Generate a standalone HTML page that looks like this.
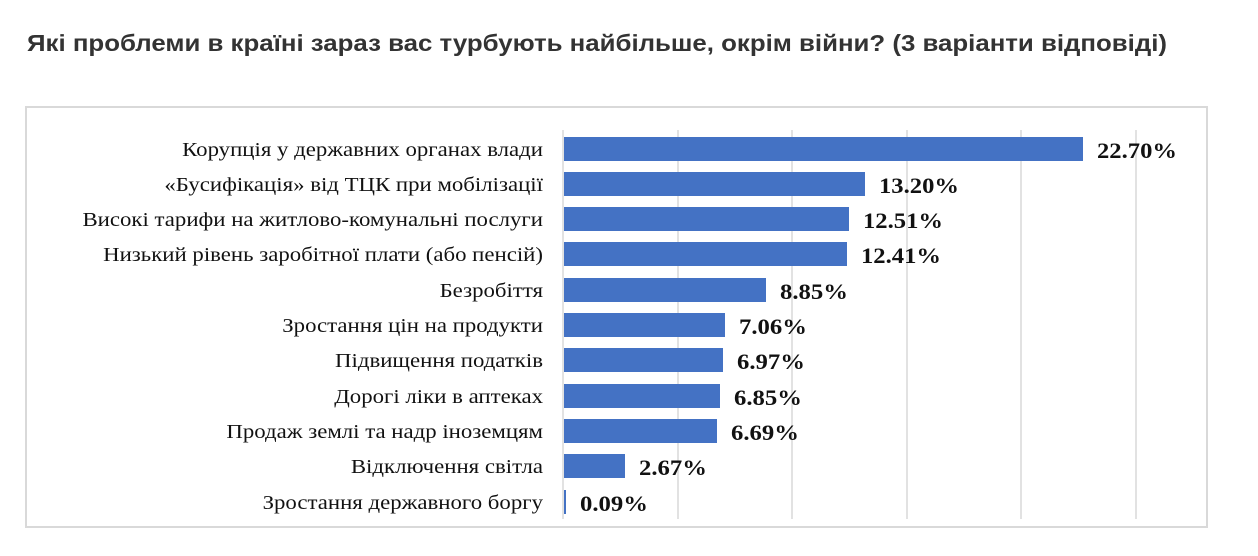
<!DOCTYPE html>
<html><head><meta charset="utf-8"><style>
body{margin:0;background:#fff;width:1258px;height:556px;overflow:hidden}
svg{display:block}
</style></head><body>
<svg width="1258" height="556" xmlns="http://www.w3.org/2000/svg">
<text x="27" y="51" font-family="Liberation Sans, sans-serif" font-weight="bold" font-size="23" fill="#333" textLength="1140" lengthAdjust="spacingAndGlyphs">Які проблеми в країні зараз вас турбують найбільше, окрім війни? (3 варіанти відповіді)</text>
<rect x="26" y="107" width="1181" height="420" fill="#fff" stroke="#d9d9d9" stroke-width="2"/>
<g stroke="#d9d9d9" stroke-width="1.5">
<line x1="678" y1="130" x2="678" y2="519"/>
<line x1="792" y1="130" x2="792" y2="519"/>
<line x1="907" y1="130" x2="907" y2="519"/>
<line x1="1021" y1="130" x2="1021" y2="519"/>
<line x1="1136" y1="130" x2="1136" y2="519"/>
<line x1="563" y1="130" x2="563" y2="519"/>
</g>
<g transform="translate(543,0) scale(1.17,1) translate(-543,0)" font-family="Liberation Serif, serif" font-size="19.5" fill="#111" text-anchor="end">
<text x="543" y="156">Корупція у державних органах влади</text>
<text x="543" y="191">«Бусифікація» від ТЦК при мобілізації</text>
<text x="543" y="226">Високі тарифи на житлово-комунальні послуги</text>
<text x="543" y="261">Низький рівень заробітної плати  (або пенсій)</text>
<text x="543" y="297">Безробіття</text>
<text x="543" y="332">Зростання цін на продукти</text>
<text x="543" y="367">Підвищення податків</text>
<text x="543" y="403">Дорогі ліки в аптеках</text>
<text x="543" y="438">Продаж землі та надр іноземцям</text>
<text x="543" y="473">Відключення світла</text>
<text x="543" y="509">Зростання державного боргу</text>
</g>
<g fill="#4472c4">
<rect x="564" y="137" width="519" height="24"/>
<rect x="564" y="172" width="301" height="24"/>
<rect x="564" y="207" width="285" height="24"/>
<rect x="564" y="242" width="283" height="24"/>
<rect x="564" y="278" width="202" height="24"/>
<rect x="564" y="313" width="161" height="24"/>
<rect x="564" y="348" width="159" height="24"/>
<rect x="564" y="384" width="156" height="24"/>
<rect x="564" y="419" width="153" height="24"/>
<rect x="564" y="454" width="61" height="24"/>
<rect x="564" y="490" width="2" height="24"/>
</g>
<g font-family="Liberation Serif, serif" font-size="22" font-weight="bold" fill="#111">
<text x="1097" y="158" textLength="80" lengthAdjust="spacingAndGlyphs">22.70%</text>
<text x="879" y="193" textLength="80" lengthAdjust="spacingAndGlyphs">13.20%</text>
<text x="863" y="228" textLength="80" lengthAdjust="spacingAndGlyphs">12.51%</text>
<text x="861" y="263" textLength="80" lengthAdjust="spacingAndGlyphs">12.41%</text>
<text x="780" y="299" textLength="68" lengthAdjust="spacingAndGlyphs">8.85%</text>
<text x="739" y="334" textLength="68" lengthAdjust="spacingAndGlyphs">7.06%</text>
<text x="737" y="369" textLength="68" lengthAdjust="spacingAndGlyphs">6.97%</text>
<text x="734" y="405" textLength="68" lengthAdjust="spacingAndGlyphs">6.85%</text>
<text x="731" y="440" textLength="68" lengthAdjust="spacingAndGlyphs">6.69%</text>
<text x="639" y="475" textLength="68" lengthAdjust="spacingAndGlyphs">2.67%</text>
<text x="580" y="511" textLength="68" lengthAdjust="spacingAndGlyphs">0.09%</text>
</g>
</svg>
</body></html>
